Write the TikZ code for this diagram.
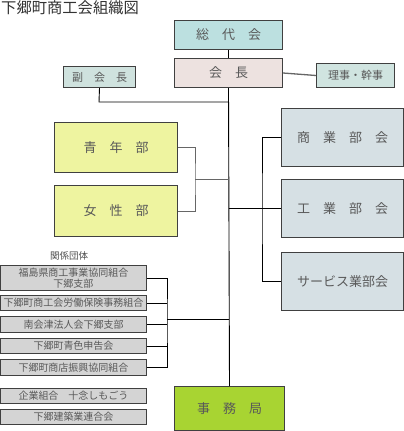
\documentclass[tikz,border=0pt]{standalone}
\usepackage{fontspec}
\setmainfont{Noto Sans CJK JP}
\begin{document}
\begin{tikzpicture}[x=1pt,y=-1pt,
  box/.style={draw=black!75,line width=1pt,anchor=north west,inner sep=0pt,text=black!65,font=\fontsize{13}{15}\selectfont},
  rel/.style={box,fill=black!17,minimum width=146pt,font=\fontsize{10}{11}\selectfont},
  conn/.style={draw=black,line width=0.9pt},
  gconn/.style={draw=black!60,line width=1.3pt}]
\useasboundingbox (0,0) rectangle (404,431);
\fill[white] (0,0) rectangle (404,431);
\node[anchor=north west,inner sep=0pt,text=black!80,font=\fontsize{15.3}{17}\selectfont] (title) at (1,0) {下郷町商工会組織図};
\node[box,fill={rgb,255:red,188;green,224;blue,224},minimum width=108pt,minimum height=29pt] (sodai) at (174,20) {総　代　会};
\node[box,fill={rgb,255:red,237;green,226;blue,224},minimum width=108pt,minimum height=29pt] (kaicho) at (174,58) {会　長};
\node[box,fill={rgb,255:red,207;green,226;blue,222},minimum width=72pt,minimum height=21pt,font=\fontsize{11}{12}\selectfont] (fuku) at (63,66) {副　会　長};
\node[box,fill={rgb,255:red,208;green,228;blue,224},minimum width=78pt,minimum height=24pt,font=\fontsize{11}{12}\selectfont] (riji) at (316,63) {理事・幹事};
\node[box,fill={rgb,255:red,238;green,244;blue,160},minimum width=123pt,minimum height=50pt] (seinen) at (54,122) {青　年　部};
\node[box,fill={rgb,255:red,238;green,244;blue,160},minimum width=123pt,minimum height=51pt] (josei) at (54,185) {女　性　部};
\node[box,fill={rgb,255:red,214;green,224;blue,228},minimum width=122pt,minimum height=58pt] (shogyo) at (281,108) {商　業　部　会};
\node[box,fill={rgb,255:red,214;green,224;blue,228},minimum width=122pt,minimum height=58pt] (kogyo) at (281,179) {工　業　部　会};
\node[box,fill={rgb,255:red,214;green,224;blue,228},minimum width=122pt,minimum height=58pt] (service) at (281,252) {サービス業部会};
\node[box,fill={rgb,255:red,168;green,212;blue,50},minimum width=110pt,minimum height=44pt] (jimu) at (174,386) {事　務　局};
\node[anchor=center,inner sep=0pt,text=black!70,font=\fontsize{9.5}{10}\selectfont] (kankei) at (69,256) {関係団体};
\node[rel,minimum height=25pt,align=center,font=\fontsize{10}{11}\selectfont] (r1) at (0,265) {福島県商工事業協同組合\\下郷支部};
\node[rel,minimum height=15pt] (r2) at (0,295) {下郷町商工会労働保険事務組合};
\node[rel,minimum height=16pt] (r3) at (0,316) {南会津法人会下郷支部};
\node[rel,minimum height=15pt] (r4) at (0,338) {下郷町青色申告会};
\node[rel,minimum height=16pt] (r5) at (0,359) {下郷町商店振興協同組合};
\node[rel,minimum height=15pt] (r6) at (0,388) {企業組合　十念しもごう};
\node[rel,minimum height=15pt] (r7) at (0,409) {下郷建築業連合会};
% connectors
\draw[conn] (sodai.south) -- (kaicho.north);
\draw[conn] (kaicho.south) -- (jimu.north);
\draw[gconn] (kaicho.east) -- (riji.west);
\coordinate (fj) at (99,102);
\draw[conn] (fuku.south) -- (fj) -- (fj -| kaicho.south);
\coordinate (bl) at (195,179);
\draw[gconn,line width=1pt] (seinen.east) -| (bl) |- (josei.east);
\draw[gconn,line width=1pt] (bl) -- (bl -| kaicho.south);
\coordinate (br) at (262,208);
\draw[conn] (shogyo.west) -| (br) |- (service.west);
\draw[conn] (kaicho.south |- kogyo.west) -- (kogyo.west);
\coordinate (rb) at (167,319);
\draw[conn] (r1.east) -| (rb) |- (r5.east);
\draw[conn] (r2.east) -- (r2.east -| rb);
\draw[conn] (r3.east) -- (r3.east -| rb);
\draw[conn] (r4.east) -- (r4.east -| rb);
\draw[conn] (rb) -- (rb -| kaicho.south);
\end{tikzpicture}
\end{document}
